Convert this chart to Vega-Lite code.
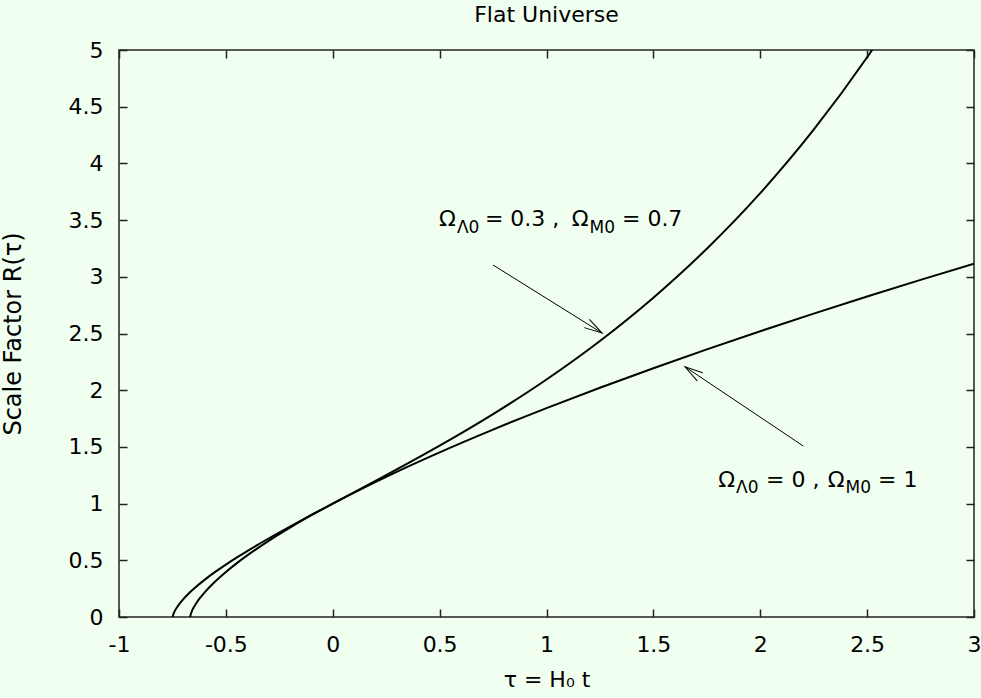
{
  "$schema": "https://vega.github.io/schema/vega-lite/v6.json",
  "width": 855,
  "height": 567,
  "autosize": {"type": "none"},
  "padding": {"left": 119, "top": 50, "right": 7, "bottom": 81},
  "background": "#f0fff0",
  "title": {"text": "Flat Universe", "fontSize": 22, "font": "DejaVu Sans", "fontWeight": "normal", "color": "black", "offset": 12, "anchor": "middle"},
  "datasets": {
    "curves": [
      {"model": "EdS", "tau": -0.6667, "R": 0},
      {"model": "EdS", "tau": -0.666, "R": 0.01},
      {"model": "EdS", "tau": -0.66, "R": 0.0464},
      {"model": "EdS", "tau": -0.65, "R": 0.0855},
      {"model": "EdS", "tau": -0.64, "R": 0.117},
      {"model": "EdS", "tau": -0.62, "R": 0.1699},
      {"model": "EdS", "tau": -0.6, "R": 0.2154},
      {"model": "EdS", "tau": -0.55, "R": 0.3129},
      {"model": "EdS", "tau": -0.5, "R": 0.3969},
      {"model": "EdS", "tau": -0.45, "R": 0.4727},
      {"model": "EdS", "tau": -0.4, "R": 0.5429},
      {"model": "EdS", "tau": -0.3, "R": 0.6713},
      {"model": "EdS", "tau": -0.2, "R": 0.7884},
      {"model": "EdS", "tau": -0.1, "R": 0.8973},
      {"model": "EdS", "tau": 0, "R": 1},
      {"model": "EdS", "tau": 0.25, "R": 1.2365},
      {"model": "EdS", "tau": 0.5, "R": 1.4522},
      {"model": "EdS", "tau": 0.75, "R": 1.6529},
      {"model": "EdS", "tau": 1, "R": 1.842},
      {"model": "EdS", "tau": 1.25, "R": 2.022},
      {"model": "EdS", "tau": 1.5, "R": 2.194},
      {"model": "EdS", "tau": 1.75, "R": 2.36},
      {"model": "EdS", "tau": 2, "R": 2.52},
      {"model": "EdS", "tau": 2.25, "R": 2.675},
      {"model": "EdS", "tau": 2.5, "R": 2.826},
      {"model": "EdS", "tau": 2.75, "R": 2.973},
      {"model": "EdS", "tau": 3, "R": 3.116},
      {"model": "Lambda", "tau": -0.7487, "R": 0},
      {"model": "Lambda", "tau": -0.745, "R": 0.0278},
      {"model": "Lambda", "tau": -0.74, "R": 0.0492},
      {"model": "Lambda", "tau": -0.73, "R": 0.082},
      {"model": "Lambda", "tau": -0.72, "R": 0.109},
      {"model": "Lambda", "tau": -0.7, "R": 0.1552},
      {"model": "Lambda", "tau": -0.675, "R": 0.2047},
      {"model": "Lambda", "tau": -0.65, "R": 0.2486},
      {"model": "Lambda", "tau": -0.6, "R": 0.3271},
      {"model": "Lambda", "tau": -0.55, "R": 0.3974},
      {"model": "Lambda", "tau": -0.5, "R": 0.4623},
      {"model": "Lambda", "tau": -0.45, "R": 0.5234},
      {"model": "Lambda", "tau": -0.4, "R": 0.5817},
      {"model": "Lambda", "tau": -0.3, "R": 0.6923},
      {"model": "Lambda", "tau": -0.2, "R": 0.7975},
      {"model": "Lambda", "tau": -0.1, "R": 0.8996},
      {"model": "Lambda", "tau": 0, "R": 1},
      {"model": "Lambda", "tau": 0.25, "R": 1.2508},
      {"model": "Lambda", "tau": 0.5, "R": 1.5108},
      {"model": "Lambda", "tau": 0.75, "R": 1.7894},
      {"model": "Lambda", "tau": 1, "R": 2.0947},
      {"model": "Lambda", "tau": 1.25, "R": 2.4343},
      {"model": "Lambda", "tau": 1.5, "R": 2.8159},
      {"model": "Lambda", "tau": 1.75, "R": 3.2475},
      {"model": "Lambda", "tau": 2, "R": 3.7381},
      {"model": "Lambda", "tau": 2.25, "R": 4.2972},
      {"model": "Lambda", "tau": 2.5, "R": 4.9359},
      {"model": "Lambda", "tau": 2.53, "R": 5.0185}
    ],
    "arrows": [
      {"id": 1, "x1": 0.75, "y1": 3.104, "x2": 1.26, "y2": 2.504},
      {"id": 2, "x1": 2.201, "y1": 1.508, "x2": 1.648, "y2": 2.207}
    ],
    "labels": [
      {"role": "main", "x": 0.497, "y": 3.448, "text": "Ω"},
      {"role": "sub", "x": 0.581, "y": 3.386, "text": "Λ0"},
      {"role": "main", "x": 0.712, "y": 3.448, "text": "= 0.3 ,"},
      {"role": "main", "x": 1.118, "y": 3.448, "text": "Ω"},
      {"role": "sub", "x": 1.201, "y": 3.386, "text": "M0"},
      {"role": "main", "x": 1.353, "y": 3.448, "text": "= 0.7"},
      {"role": "main", "x": 1.804, "y": 1.149, "text": "Ω"},
      {"role": "sub", "x": 1.887, "y": 1.091, "text": "Λ0"},
      {"role": "main", "x": 2.027, "y": 1.149, "text": "= 0 ,"},
      {"role": "main", "x": 2.316, "y": 1.149, "text": "Ω"},
      {"role": "sub", "x": 2.399, "y": 1.091, "text": "M0"},
      {"role": "main", "x": 2.551, "y": 1.149, "text": "= 1"}
    ]
  },
  "layer": [
    {
      "data": {"name": "curves"},
      "mark": {"type": "line", "interpolate": "monotone", "clip": true, "color": "black", "strokeWidth": 2},
      "encoding": {
        "x": {"field": "tau", "type": "quantitative",
          "scale": {"domain": [-1, 3], "nice": false, "zero": false},
          "axis": {"orient": "bottom", "values": [-1, -0.5, 0, 0.5, 1, 1.5, 2, 2.5, 3], "domain": false, "grid": false,
            "tickSize": -8, "tickColor": "#222", "tickWidth": 1.5,
            "labelFontSize": 22, "labelFont": "DejaVu Sans", "labelColor": "black", "labelPadding": 25,
            "labelFlush": false, "labelOverlap": false,
            "labelExpr": "datum.value < 0 ? '-' + format(-datum.value, '') : format(datum.value, '')",
            "title": "τ = H₀ t", "titleFont": "DejaVu Sans", "titleFontSize": 22, "titleFontWeight": "normal", "titleColor": "black",
            "titleX": 427.5, "titleY": 69, "titleBaseline": "alphabetic", "titleAlign": "center"}},
        "y": {"field": "R", "type": "quantitative",
          "scale": {"domain": [0, 5], "nice": false, "zero": false},
          "axis": {"orient": "left", "values": [0, 0.5, 1, 1.5, 2, 2.5, 3, 3.5, 4, 4.5, 5], "domain": false, "grid": false,
            "tickSize": -8, "tickColor": "#222", "tickWidth": 1.5,
            "labelFontSize": 22, "labelFont": "DejaVu Sans", "labelColor": "black", "labelPadding": 24,
            "labelFlush": false, "labelOverlap": false,
            "labelExpr": "format(datum.value, '')",
            "title": "Scale Factor R(τ)", "titleFont": "DejaVu Sans", "titleFontSize": 24, "titleFontWeight": "normal", "titleColor": "black",
            "titleX": -106, "titleY": 283.5, "titleAngle": 270, "titleBaseline": "middle", "titleAlign": "center"}},
        "detail": {"field": "model", "type": "nominal"}
      }
    },
    {
      "data": {"name": "arrows"},
      "mark": {"type": "rule", "color": "black", "strokeWidth": 1},
      "encoding": {
        "x": {"field": "x1", "type": "quantitative",
          "axis": {"orient": "top", "values": [-1, -0.5, 0, 0.5, 1, 1.5, 2, 2.5, 3], "domain": false, "grid": false, "labels": false, "title": null,
            "tickSize": -8, "tickColor": "#222", "tickWidth": 1.5}},
        "y": {"field": "y1", "type": "quantitative",
          "axis": {"orient": "right", "values": [0, 0.5, 1, 1.5, 2, 2.5, 3, 3.5, 4, 4.5, 5], "domain": false, "grid": false, "labels": false, "title": null,
            "tickSize": -8, "tickColor": "#222", "tickWidth": 1.5}},
        "x2": {"field": "x2"},
        "y2": {"field": "y2"}
      }
    },
    {
      "data": {"name": "arrows"},
      "transform": [{"filter": "datum.id == 1"}],
      "mark": {"type": "point", "shape": "M -1 -0.27 L 0 0 L -1 0.27", "filled": false, "stroke": "black", "strokeWidth": 1, "size": 1296, "angle": 32, "opacity": 1},
      "encoding": {
        "x": {"field": "x2", "type": "quantitative", "axis": null},
        "y": {"field": "y2", "type": "quantitative", "axis": null}
      }
    },
    {
      "data": {"name": "arrows"},
      "transform": [{"filter": "datum.id == 2"}],
      "mark": {"type": "point", "shape": "M -1 -0.27 L 0 0 L -1 0.27", "filled": false, "stroke": "black", "strokeWidth": 1, "size": 1296, "angle": 214, "opacity": 1},
      "encoding": {
        "x": {"field": "x2", "type": "quantitative", "axis": null},
        "y": {"field": "y2", "type": "quantitative", "axis": null}
      }
    },
    {
      "data": {"name": "labels"},
      "transform": [{"filter": "datum.role == 'main'"}],
      "mark": {"type": "text", "align": "left", "baseline": "alphabetic", "fontSize": 22, "font": "DejaVu Sans", "color": "black"},
      "encoding": {
        "x": {"field": "x", "type": "quantitative", "axis": null},
        "y": {"field": "y", "type": "quantitative", "axis": null},
        "text": {"field": "text"}
      }
    },
    {
      "data": {"name": "labels"},
      "transform": [{"filter": "datum.role == 'sub'"}],
      "mark": {"type": "text", "align": "left", "baseline": "alphabetic", "fontSize": 17, "font": "DejaVu Sans", "color": "black"},
      "encoding": {
        "x": {"field": "x", "type": "quantitative", "axis": null},
        "y": {"field": "y", "type": "quantitative", "axis": null},
        "text": {"field": "text"}
      }
    }
  ],
  "resolve": {"axis": {"x": "independent", "y": "independent"}},
  "config": {"view": {"stroke": "#222", "strokeWidth": 1.5}, "font": "DejaVu Sans"}
}
